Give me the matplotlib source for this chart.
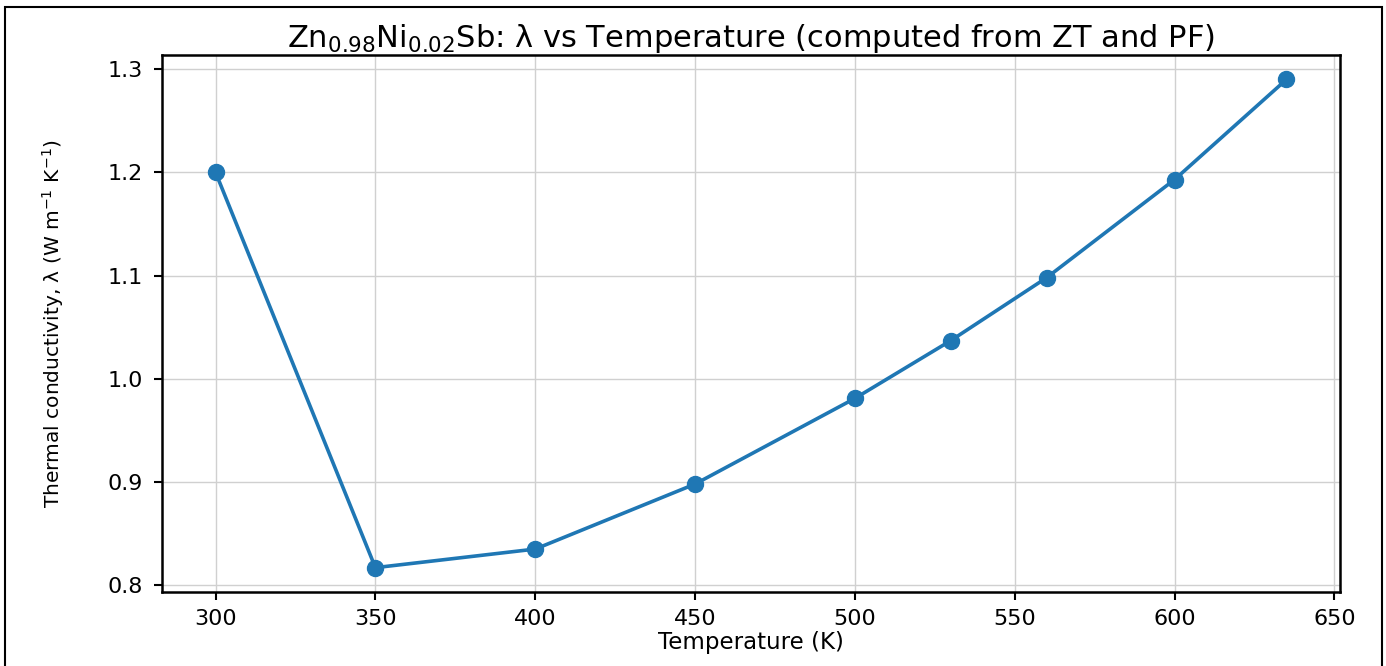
import matplotlib
matplotlib.use("Agg")
import matplotlib.pyplot as plt
from matplotlib.patches import Rectangle

temperature_K = [300, 350, 400, 450, 500, 530, 560, 600, 635]
lambda_W_mK = [1.200, 0.817, 0.835, 0.898, 0.981, 1.037, 1.098, 1.193, 1.290]
x_ticks = [300, 350, 400, 450, 500, 550, 600, 650]
y_ticks = [0.8, 0.9, 1.0, 1.1, 1.2, 1.3]

plt.rcParams['mathtext.default'] = 'regular'
plt.rcParams['font.family'] = ['DejaVu Sans']

fig = plt.figure(figsize=(13.86, 6.66), dpi=100)
ax = fig.add_axes([0.1169, 0.1111, 0.8499, 0.8063])

ax.plot(temperature_K, lambda_W_mK, '-o', color='#1f77b4', lw=2.6, markersize=11.5)
ax.set_xticks(x_ticks)
ax.set_yticks(y_ticks)
ax.set_xlim(283.25, 651.75)
ax.set_ylim(0.7934, 1.3137)
ax.grid(True, color='#d0d0d0', lw=1.0)
ax.set_axisbelow(True)

ax.tick_params(axis='both', labelsize=16, length=6, width=1.5)
ax.tick_params(axis='y', pad=8)
ax.tick_params(axis='x', pad=6)
for s in ax.spines.values():
    s.set_linewidth(1.8)

ax.set_title('Zn$_{0.98}$Ni$_{0.02}$Sb: λ vs Temperature (computed from ZT and PF)',
             fontsize=22, pad=6)
ax.set_xlabel('Temperature (K)', fontsize=16.5, labelpad=2)
ax.set_ylabel('Thermal conductivity, λ (W m$^{-1}$ K$^{-1}$)', fontsize=14.5, labelpad=30)

fig.patches.append(Rectangle((5/1386, -0.01), 1 - 9/1386, 1 - 7/666 + 0.01,
                             transform=fig.transFigure, fill=False,
                             edgecolor='black', lw=1.5))

fig.savefig('out.png', dpi=100)
